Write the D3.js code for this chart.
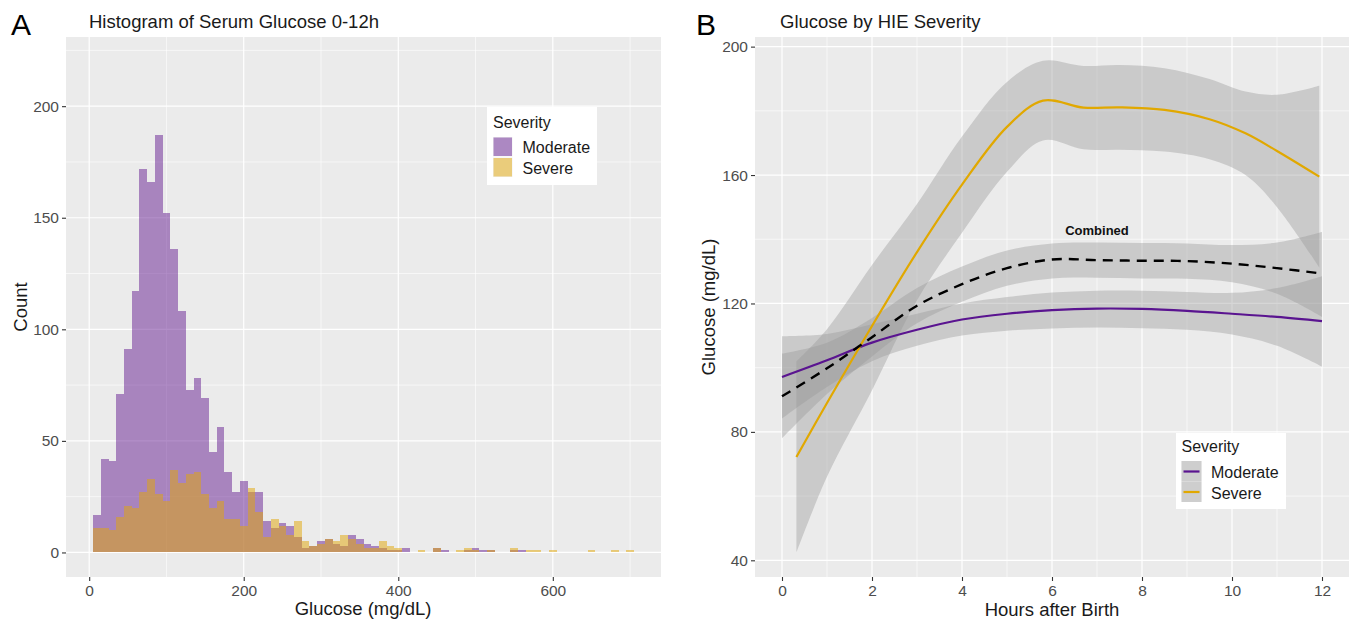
<!DOCTYPE html>
<html>
<head>
<meta charset="utf-8">
<script src="https://cdn.jsdelivr.net/npm/d3@7"></script>
<style>
  body { margin: 0; background: #fff; }
  text { font-family: "Liberation Sans", Arial, sans-serif; }
</style>
</head>
<body>
<svg id="fig" width="1355" height="622"></svg>
<script>
// ---- panel A: histogram, bins of 10 mg/dL starting at 5 ----
var binStart = 5;
var binWidth = 10;
var moderateCounts = [17,42,41,71,91,117,172,166,187,152,
  136,108,73,78,69,45,56,36,27,32,
  27,27,14,11,13,12,7,2,3,5,
  6,4,3,8,6,4,3,2,1,1,
  2,0,0,0,2,1,0,0,1,2,
  1,1,0,0,1,1,0,0,0,0,
  0,0,0,0,0,0,0,0,0,0];
var severeCounts = [11,11,10,16,21,20,27,33,26,23,
  37,31,35,36,26,20,23,15,15,12,
  29,18,7,15,12,8,14,5,3,4,
  6,5,8,6,4,2,2,5,3,2,
  0,0,1,0,2,0,0,1,2,1,
  0,1,0,0,2,0,1,1,0,1,
  0,0,0,0,1,0,0,1,0,1];
var histXTicks = [0, 200, 400, 600];
var histYTicks = [0, 50, 100, 150, 200];

// ---- panel B: smoothed glucose by hour ----
var modHours = [0,1,2,3,4,5,6,7,8,9,10,11,12];
var modFit   = [97.1,102.3,107.8,111.8,115,116.8,117.9,118.4,118.3,117.7,116.8,115.8,114.5];
var modLo    = [84.2,94,102,106.8,110,111.5,112.2,112.5,112.3,111.8,110.3,106.8,100.3];
var modHi    = [109.8,110.5,113.5,116.8,120,122,123.4,124,124,123.6,123.3,124.8,128.5];

var sevHours = [0.32,1,2,3,4,5,5.8,6.7,7.5,8.5,9.5,10.3,11,11.94];
var sevFit   = [72.2,89,113,136,157,175,183.2,181,181.1,180.3,177.4,173,167.5,159.5];
var sevLo    = [42.4,66,93,121,142,161,170.8,168,167.9,167.3,164.9,160,150,131.2];
var sevHi    = [102,112,132,151,172,189,195.6,194,194.3,193.3,189.9,186,185,187.8];

var allHours = [0,1,2,3,4,5,6,7,8,9,10,11,12];
var allFit   = [91.1,99.8,109.5,119.3,126,131,133.7,133.5,133.3,133.2,132.4,131,129.3];
var allLo    = [78,91.8,103.5,113.8,120.5,125.5,127.8,128,127.8,127.7,126.6,123,115.8];
var allHi    = [104.4,107.8,115.5,124.8,131.5,136.5,138.7,139,138.8,138.7,138.2,139,142.3];

var hourTicks = [0, 2, 4, 6, 8, 10, 12];
var glucoseTicks = [40, 80, 120, 160, 200];

var purpleFill = "#651d91";
var yellowFill = "#e1a503";
var purpleLine = "#5a1490";
var goldLine = "#e1a800";

var svg = d3.select("#fig");
svg.append("rect").attr("width", 1355).attr("height", 622).attr("fill", "#fff");

function grid(g, x, y, xMajor, xMinor, yMajor, yMinor) {
  var x0 = x.range()[0], x1 = x.range()[1], y0 = y.range()[0], y1 = y.range()[1];
  g.append("rect").attr("x", x0).attr("y", y1).attr("width", x1 - x0).attr("height", y0 - y1)
    .attr("fill", "#ebebeb");
  g.selectAll(".ym").data(yMinor).join("line").attr("x1", x0).attr("x2", x1)
    .attr("y1", d => y(d)).attr("y2", d => y(d)).attr("stroke", "#fff").attr("stroke-width", 0.6);
  g.selectAll(".xm").data(xMinor).join("line").attr("y1", y0).attr("y2", y1)
    .attr("x1", d => x(d)).attr("x2", d => x(d)).attr("stroke", "#fff").attr("stroke-width", 0.6);
  g.selectAll(".yM").data(yMajor).join("line").attr("x1", x0).attr("x2", x1)
    .attr("y1", d => y(d)).attr("y2", d => y(d)).attr("stroke", "#fff").attr("stroke-width", 1.2);
  g.selectAll(".xM").data(xMajor).join("line").attr("y1", y0).attr("y2", y1)
    .attr("x1", d => x(d)).attr("x2", d => x(d)).attr("stroke", "#fff").attr("stroke-width", 1.2);
}

function styleAxis(g) {
  g.select(".domain").remove();
  g.selectAll(".tick line").attr("stroke", "#333").attr("stroke-width", 1.1);
  g.selectAll(".tick text").attr("fill", "#4d4d4d").style("font-size", "15.5px")
    .style("font-family", "'Liberation Sans', Arial, sans-serif");
}

// ================= Panel A =================
var xA = d3.scaleLinear().domain([-30, 740]).range([66, 661]);
var yA = d3.scaleLinear().domain([-11, 231]).range([577, 37]);
var gA = svg.append("g");
grid(gA, xA, yA, histXTicks, [100, 300, 500, 700], histYTicks, [25, 75, 125, 175, 225]);

function drawBars(counts, fill) {
  var bins = counts.map((c, i) => ({ lo: binStart + i * binWidth, hi: binStart + (i + 1) * binWidth, n: c }))
    .filter(b => b.n > 0);
  gA.append("g").selectAll("rect").data(bins).join("rect")
    .attr("x", b => xA(b.lo))
    .attr("width", b => xA(b.hi) - xA(b.lo))
    .attr("y", b => yA(b.n))
    .attr("height", b => yA(0) - yA(b.n))
    .attr("fill", fill).attr("fill-opacity", 0.5)
    .attr("shape-rendering", "crispEdges");
}
drawBars(moderateCounts, purpleFill);
drawBars(severeCounts, yellowFill);

gA.append("g").attr("transform", "translate(66,0)")
  .call(d3.axisLeft(yA).tickValues(histYTicks).tickSize(4).tickPadding(3)).call(styleAxis);
gA.append("g").attr("transform", "translate(0,577)")
  .call(d3.axisBottom(xA).tickValues(histXTicks).tickSize(4).tickPadding(4)).call(styleAxis);

svg.append("text").attr("x", 11).attr("y", 35).text("A").style("font-size", "30px").attr("fill", "#000");
svg.append("text").attr("x", 89).attr("y", 28).text("Histogram of Serum Glucose 0-12h")
  .style("font-size", "18.5px").attr("fill", "#1a1a1a");
svg.append("text").attr("x", 363).attr("y", 615).attr("text-anchor", "middle")
  .text("Glucose (mg/dL)").style("font-size", "18.5px").attr("fill", "#1a1a1a");
svg.append("text").attr("transform", "translate(27,307) rotate(-90)").attr("text-anchor", "middle")
  .text("Count").style("font-size", "18.5px").attr("fill", "#1a1a1a");

// legend A
var legA = svg.append("g").attr("transform", "translate(487,107)");
legA.append("rect").attr("width", 110).attr("height", 78).attr("fill", "#fff");
legA.append("text").attr("x", 6).attr("y", 21).text("Severity").style("font-size", "16px").attr("fill", "#1a1a1a");
[["Moderate", purpleFill], ["Severe", yellowFill]].forEach(function (d, i) {
  legA.append("rect").attr("x", 6).attr("y", 30 + i * 20.5).attr("width", 19.5).attr("height", 19.5)
    .attr("fill", "#f2f2f2");
  legA.append("rect").attr("x", 6.5).attr("y", 30.5 + i * 20.5).attr("width", 18.5).attr("height", 18.5)
    .attr("fill", d[1]).attr("fill-opacity", 0.5);
  legA.append("text").attr("x", 35.5).attr("y", 46 + i * 20.5).text(d[0])
    .style("font-size", "16px").attr("fill", "#1a1a1a");
});

// ================= Panel B =================
var xB = d3.scaleLinear().domain([-0.6, 12.6]).range([755, 1349]);
var yB = d3.scaleLinear().domain([34.8, 203]).range([577, 37]);
var gB = svg.append("g");
grid(gB, xB, yB, hourTicks, [1, 3, 5, 7, 9, 11], glucoseTicks, [60, 100, 140, 180]);

var curve = d3.curveCatmullRom.alpha(0.5);
function band(hours, lo, hi) {
  var rows = hours.map((h, i) => [h, lo[i], hi[i]]);
  gB.append("path").datum(rows)
    .attr("d", d3.area().x(d => xB(d[0])).y0(d => yB(d[1])).y1(d => yB(d[2])).curve(curve))
    .attr("fill", "#999999").attr("fill-opacity", 0.4);
}
function fitLine(hours, fit, color, dash, width) {
  var rows = hours.map((h, i) => [h, fit[i]]);
  gB.append("path").datum(rows)
    .attr("d", d3.line().x(d => xB(d[0])).y(d => yB(d[1])).curve(curve))
    .attr("fill", "none").attr("stroke", color).attr("stroke-width", width)
    .attr("stroke-dasharray", dash);
}
band(modHours, modLo, modHi);
band(sevHours, sevLo, sevHi);
band(allHours, allLo, allHi);
fitLine(modHours, modFit, purpleLine, null, 2.2);
fitLine(sevHours, sevFit, goldLine, null, 2.2);
fitLine(allHours, allFit, "#000", "10,7", 2.4);

gB.append("text").attr("x", xB(7)).attr("y", yB(141.3)).attr("text-anchor", "middle")
  .text("Combined").style("font-size", "13px").style("font-weight", "bold").attr("fill", "#111");

gB.append("g").attr("transform", "translate(755,0)")
  .call(d3.axisLeft(yB).tickValues(glucoseTicks).tickSize(4).tickPadding(3)).call(styleAxis);
gB.append("g").attr("transform", "translate(0,577)")
  .call(d3.axisBottom(xB).tickValues(hourTicks).tickSize(4).tickPadding(4)).call(styleAxis);

svg.append("text").attr("x", 696).attr("y", 35).text("B").style("font-size", "30px").attr("fill", "#000");
svg.append("text").attr("x", 780).attr("y", 28).text("Glucose by HIE Severity")
  .style("font-size", "18.5px").attr("fill", "#1a1a1a");
svg.append("text").attr("x", 1052).attr("y", 616).attr("text-anchor", "middle")
  .text("Hours after Birth").style("font-size", "18.5px").attr("fill", "#1a1a1a");
svg.append("text").attr("transform", "translate(715,307) rotate(-90)").attr("text-anchor", "middle")
  .text("Glucose (mg/dL)").style("font-size", "18.5px").attr("fill", "#1a1a1a");

// legend B
var legB = svg.append("g").attr("transform", "translate(1176,433)");
legB.append("rect").attr("width", 110).attr("height", 76).attr("fill", "#fff");
legB.append("text").attr("x", 5.5).attr("y", 19).text("Severity").style("font-size", "16px").attr("fill", "#1a1a1a");
[["Moderate", purpleLine], ["Severe", goldLine]].forEach(function (d, i) {
  legB.append("rect").attr("x", 5.5).attr("y", 28 + i * 20.5).attr("width", 20).attr("height", 20.5)
    .attr("fill", "#f2f2f2");
  legB.append("rect").attr("x", 5.5).attr("y", 28 + i * 20.5).attr("width", 20).attr("height", 20.5)
    .attr("fill", "#999999").attr("fill-opacity", 0.4);
  legB.append("line").attr("x1", 7.5).attr("x2", 23.5).attr("y1", 38.5 + i * 20.5).attr("y2", 38.5 + i * 20.5)
    .attr("stroke", d[1]).attr("stroke-width", 2.2);
  legB.append("text").attr("x", 35).attr("y", 45 + i * 20.5).text(d[0])
    .style("font-size", "16px").attr("fill", "#1a1a1a");
});
</script>
</body>
</html>
